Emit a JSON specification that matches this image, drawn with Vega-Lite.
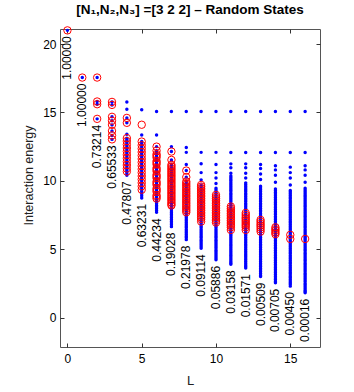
{
  "$schema": "https://vega.github.io/schema/vega-lite/v6.json",
  "width": 260,
  "height": 318,
  "autosize": "none",
  "padding": {"left": 60, "top": 29, "right": 34, "bottom": 45},
  "background": "white",
  "title": {"text": "[N₁,N₂,N₃] =[3 2 2] – Random States", "font": "Liberation Sans", "fontSize": 13.5, "fontWeight": "bold", "color": "black", "offset": 8, "anchor": "middle"},
  "config": {
    "view": {"stroke": "#555", "strokeWidth": 1},
    "axis": {"domain": false, "grid": false, "tickColor": "#333", "tickSize": -4, "labelFont": "Liberation Sans", "labelFontSize": 12, "labelColor": "black", "titleFont": "Liberation Sans", "titleFontSize": 13, "titleFontWeight": "normal", "titleColor": "#222"}
  },
  "datasets": {
    "b": [
      {"L":0,"E":21.0},
      {"L":1,"E":17.55},
      {"L":2,"E":17.55},{"L":2,"E":15.8},{"L":2,"E":15.6},{"L":2,"E":14.53},
      {"L":3,"E":15.77},{"L":3,"E":15.55},{"L":3,"E":14.68},{"L":3,"E":14.39},{"L":3,"E":14.09},{"L":3,"E":13.65},{"L":3,"E":13.32},{"L":3,"E":13.03},
      {"L":4,"E":15.77},{"L":4,"E":15.24},{"L":4,"E":14.6},{"L":4,"E":14.24},{"L":4,"E":13.4},{"L":4,"E":13.12},{"L":4,"E":13.0},{"L":4,"E":12.9},{"L":4,"E":12.78},{"L":4,"E":12.65},{"L":4,"E":12.53},{"L":4,"E":12.4},{"L":4,"E":12.28},{"L":4,"E":12.15},{"L":4,"E":12.03},{"L":4,"E":11.9},{"L":4,"E":11.78},{"L":4,"E":11.65},{"L":4,"E":11.53},{"L":4,"E":11.4},{"L":4,"E":11.28},{"L":4,"E":11.15},{"L":4,"E":11.03},{"L":4,"E":10.9},{"L":4,"E":10.79},{"L":4,"E":10.68},{"L":4,"E":10.55},{"L":4,"E":10.4},
      {"L":5,"E":15.2},{"L":5,"E":13.35},{"L":5,"E":12.87},{"L":5,"E":12.74},{"L":5,"E":12.6},{"L":5,"E":12.48},{"L":5,"E":12.35},{"L":5,"E":12.23},{"L":5,"E":12.1},{"L":5,"E":11.98},{"L":5,"E":11.85},{"L":5,"E":11.73},{"L":5,"E":11.6},{"L":5,"E":11.48},{"L":5,"E":11.35},{"L":5,"E":11.23},{"L":5,"E":11.1},{"L":5,"E":10.98},{"L":5,"E":10.85},{"L":5,"E":10.73},{"L":5,"E":10.6},{"L":5,"E":10.48},{"L":5,"E":10.35},{"L":5,"E":10.23},{"L":5,"E":10.1},{"L":5,"E":9.98},{"L":5,"E":9.85},{"L":5,"E":9.73},{"L":5,"E":9.6},{"L":5,"E":9.48},{"L":5,"E":9.35},{"L":5,"E":9.2},{"L":5,"E":9.05},{"L":5,"E":8.9},{"L":5,"E":8.75},
      {"L":6,"E":15.07},{"L":6,"E":13.35},{"L":6,"E":12.5},{"L":6,"E":12.2},{"L":6,"E":12.08},{"L":6,"E":11.95},{"L":6,"E":11.83},{"L":6,"E":11.7},{"L":6,"E":11.58},{"L":6,"E":11.45},{"L":6,"E":11.33},{"L":6,"E":11.2},{"L":6,"E":11.08},{"L":6,"E":10.95},{"L":6,"E":10.83},{"L":6,"E":10.7},{"L":6,"E":10.58},{"L":6,"E":10.45},{"L":6,"E":10.33},{"L":6,"E":10.2},{"L":6,"E":10.08},{"L":6,"E":9.95},{"L":6,"E":9.83},{"L":6,"E":9.7},{"L":6,"E":9.58},{"L":6,"E":9.45},{"L":6,"E":9.33},{"L":6,"E":9.2},{"L":6,"E":9.08},{"L":6,"E":8.95},{"L":6,"E":8.83},{"L":6,"E":8.7},{"L":6,"E":8.58},{"L":6,"E":8.45},{"L":6,"E":8.33},{"L":6,"E":8.2},{"L":6,"E":8.08},{"L":6,"E":7.95},{"L":6,"E":7.83},{"L":6,"E":7.7},
      {"L":7,"E":15.07},{"L":7,"E":12.5},{"L":7,"E":12.14},{"L":7,"E":11.53},{"L":7,"E":11.17},{"L":7,"E":11.05},{"L":7,"E":10.92},{"L":7,"E":10.8},{"L":7,"E":10.67},{"L":7,"E":10.55},{"L":7,"E":10.42},{"L":7,"E":10.3},{"L":7,"E":10.17},{"L":7,"E":10.05},{"L":7,"E":9.92},{"L":7,"E":9.8},{"L":7,"E":9.67},{"L":7,"E":9.55},{"L":7,"E":9.42},{"L":7,"E":9.3},{"L":7,"E":9.17},{"L":7,"E":9.05},{"L":7,"E":8.92},{"L":7,"E":8.8},{"L":7,"E":8.67},{"L":7,"E":8.55},{"L":7,"E":8.42},{"L":7,"E":8.3},{"L":7,"E":8.17},{"L":7,"E":8.05},{"L":7,"E":7.92},{"L":7,"E":7.8},{"L":7,"E":7.67},{"L":7,"E":7.55},{"L":7,"E":7.42},{"L":7,"E":7.3},{"L":7,"E":7.17},{"L":7,"E":7.05},{"L":7,"E":6.92},{"L":7,"E":6.78},{"L":7,"E":6.65},
      {"L":8,"E":15.07},{"L":8,"E":12.43},{"L":8,"E":12.08},{"L":8,"E":11.2},{"L":8,"E":10.75},{"L":8,"E":10.27},{"L":8,"E":9.95},{"L":8,"E":9.83},{"L":8,"E":9.7},{"L":8,"E":9.58},{"L":8,"E":9.45},{"L":8,"E":9.33},{"L":8,"E":9.2},{"L":8,"E":9.08},{"L":8,"E":8.95},{"L":8,"E":8.83},{"L":8,"E":8.7},{"L":8,"E":8.58},{"L":8,"E":8.45},{"L":8,"E":8.33},{"L":8,"E":8.2},{"L":8,"E":8.08},{"L":8,"E":7.95},{"L":8,"E":7.83},{"L":8,"E":7.7},{"L":8,"E":7.58},{"L":8,"E":7.45},{"L":8,"E":7.33},{"L":8,"E":7.2},{"L":8,"E":7.08},{"L":8,"E":6.95},{"L":8,"E":6.83},{"L":8,"E":6.7},{"L":8,"E":6.58},{"L":8,"E":6.45},{"L":8,"E":6.33},{"L":8,"E":6.2},{"L":8,"E":6.08},{"L":8,"E":5.95},{"L":8,"E":5.83},{"L":8,"E":5.7},
      {"L":9,"E":15.07},{"L":9,"E":12.08},{"L":9,"E":11.25},{"L":9,"E":10.6},{"L":9,"E":10.07},{"L":9,"E":9.7},{"L":9,"E":9.58},{"L":9,"E":9.45},{"L":9,"E":9.33},{"L":9,"E":9.2},{"L":9,"E":9.08},{"L":9,"E":8.95},{"L":9,"E":8.83},{"L":9,"E":8.7},{"L":9,"E":8.58},{"L":9,"E":8.45},{"L":9,"E":8.33},{"L":9,"E":8.2},{"L":9,"E":8.08},{"L":9,"E":7.95},{"L":9,"E":7.83},{"L":9,"E":7.7},{"L":9,"E":7.58},{"L":9,"E":7.45},{"L":9,"E":7.33},{"L":9,"E":7.2},{"L":9,"E":7.08},{"L":9,"E":6.95},{"L":9,"E":6.83},{"L":9,"E":6.7},{"L":9,"E":6.58},{"L":9,"E":6.45},{"L":9,"E":6.33},{"L":9,"E":6.2},{"L":9,"E":6.08},{"L":9,"E":5.95},{"L":9,"E":5.83},{"L":9,"E":5.7},{"L":9,"E":5.58},{"L":9,"E":5.45},{"L":9,"E":5.33},{"L":9,"E":5.2},{"L":9,"E":5.07},
      {"L":10,"E":15.07},{"L":10,"E":12.08},{"L":10,"E":11.2},{"L":10,"E":10.6},{"L":10,"E":10.2},{"L":10,"E":9.8},{"L":10,"E":9.45},{"L":10,"E":9.33},{"L":10,"E":9.2},{"L":10,"E":9.08},{"L":10,"E":8.95},{"L":10,"E":8.83},{"L":10,"E":8.7},{"L":10,"E":8.58},{"L":10,"E":8.45},{"L":10,"E":8.33},{"L":10,"E":8.2},{"L":10,"E":8.08},{"L":10,"E":7.95},{"L":10,"E":7.83},{"L":10,"E":7.7},{"L":10,"E":7.58},{"L":10,"E":7.45},{"L":10,"E":7.33},{"L":10,"E":7.2},{"L":10,"E":7.08},{"L":10,"E":6.95},{"L":10,"E":6.83},{"L":10,"E":6.7},{"L":10,"E":6.58},{"L":10,"E":6.45},{"L":10,"E":6.33},{"L":10,"E":6.2},{"L":10,"E":6.08},{"L":10,"E":5.95},{"L":10,"E":5.83},{"L":10,"E":5.7},{"L":10,"E":5.58},{"L":10,"E":5.45},{"L":10,"E":5.33},{"L":10,"E":5.2},{"L":10,"E":5.08},{"L":10,"E":4.95},{"L":10,"E":4.83},{"L":10,"E":4.7},{"L":10,"E":4.58},{"L":10,"E":4.45},{"L":10,"E":4.33},{"L":10,"E":4.22},
      {"L":11,"E":15.07},{"L":11,"E":12.07},{"L":11,"E":11.24},{"L":11,"E":10.95},{"L":11,"E":10.56},{"L":11,"E":10.35},{"L":11,"E":10.23},{"L":11,"E":10.1},{"L":11,"E":9.98},{"L":11,"E":9.85},{"L":11,"E":9.73},{"L":11,"E":9.6},{"L":11,"E":9.48},{"L":11,"E":9.35},{"L":11,"E":9.23},{"L":11,"E":9.1},{"L":11,"E":8.98},{"L":11,"E":8.85},{"L":11,"E":8.73},{"L":11,"E":8.6},{"L":11,"E":8.48},{"L":11,"E":8.35},{"L":11,"E":8.23},{"L":11,"E":8.1},{"L":11,"E":7.98},{"L":11,"E":7.85},{"L":11,"E":7.73},{"L":11,"E":7.6},{"L":11,"E":7.48},{"L":11,"E":7.35},{"L":11,"E":7.23},{"L":11,"E":7.1},{"L":11,"E":6.98},{"L":11,"E":6.85},{"L":11,"E":6.73},{"L":11,"E":6.6},{"L":11,"E":6.48},{"L":11,"E":6.35},{"L":11,"E":6.23},{"L":11,"E":6.1},{"L":11,"E":5.98},{"L":11,"E":5.85},{"L":11,"E":5.73},{"L":11,"E":5.6},{"L":11,"E":5.48},{"L":11,"E":5.35},{"L":11,"E":5.23},{"L":11,"E":5.1},{"L":11,"E":4.98},{"L":11,"E":4.85},{"L":11,"E":4.73},{"L":11,"E":4.6},{"L":11,"E":4.48},{"L":11,"E":4.35},{"L":11,"E":4.23},{"L":11,"E":4.1},{"L":11,"E":4.0},{"L":11,"E":3.9},
      {"L":12,"E":15.07},{"L":12,"E":12.07},{"L":12,"E":11.24},{"L":12,"E":10.95},{"L":12,"E":10.56},{"L":12,"E":10.2},{"L":12,"E":9.85},{"L":12,"E":9.73},{"L":12,"E":9.6},{"L":12,"E":9.48},{"L":12,"E":9.35},{"L":12,"E":9.23},{"L":12,"E":9.1},{"L":12,"E":8.98},{"L":12,"E":8.85},{"L":12,"E":8.73},{"L":12,"E":8.6},{"L":12,"E":8.48},{"L":12,"E":8.35},{"L":12,"E":8.23},{"L":12,"E":8.1},{"L":12,"E":7.98},{"L":12,"E":7.85},{"L":12,"E":7.73},{"L":12,"E":7.6},{"L":12,"E":7.48},{"L":12,"E":7.35},{"L":12,"E":7.23},{"L":12,"E":7.1},{"L":12,"E":6.98},{"L":12,"E":6.85},{"L":12,"E":6.73},{"L":12,"E":6.6},{"L":12,"E":6.48},{"L":12,"E":6.35},{"L":12,"E":6.23},{"L":12,"E":6.1},{"L":12,"E":5.98},{"L":12,"E":5.85},{"L":12,"E":5.73},{"L":12,"E":5.6},{"L":12,"E":5.48},{"L":12,"E":5.35},{"L":12,"E":5.23},{"L":12,"E":5.1},{"L":12,"E":4.98},{"L":12,"E":4.85},{"L":12,"E":4.73},{"L":12,"E":4.6},{"L":12,"E":4.48},{"L":12,"E":4.35},{"L":12,"E":4.23},{"L":12,"E":4.1},{"L":12,"E":3.98},{"L":12,"E":3.85},{"L":12,"E":3.74},{"L":12,"E":3.63},
      {"L":13,"E":15.07},{"L":13,"E":12.07},{"L":13,"E":11.2},{"L":13,"E":10.9},{"L":13,"E":10.5},{"L":13,"E":10.1},{"L":13,"E":9.6},{"L":13,"E":9.48},{"L":13,"E":9.35},{"L":13,"E":9.23},{"L":13,"E":9.1},{"L":13,"E":8.98},{"L":13,"E":8.85},{"L":13,"E":8.73},{"L":13,"E":8.6},{"L":13,"E":8.48},{"L":13,"E":8.35},{"L":13,"E":8.23},{"L":13,"E":8.1},{"L":13,"E":7.98},{"L":13,"E":7.85},{"L":13,"E":7.73},{"L":13,"E":7.6},{"L":13,"E":7.48},{"L":13,"E":7.35},{"L":13,"E":7.23},{"L":13,"E":7.1},{"L":13,"E":6.98},{"L":13,"E":6.85},{"L":13,"E":6.73},{"L":13,"E":6.6},{"L":13,"E":6.48},{"L":13,"E":6.35},{"L":13,"E":6.23},{"L":13,"E":6.1},{"L":13,"E":5.98},{"L":13,"E":5.85},{"L":13,"E":5.73},{"L":13,"E":5.6},{"L":13,"E":5.48},{"L":13,"E":5.35},{"L":13,"E":5.23},{"L":13,"E":5.1},{"L":13,"E":4.98},{"L":13,"E":4.85},{"L":13,"E":4.73},{"L":13,"E":4.6},{"L":13,"E":4.48},{"L":13,"E":4.35},{"L":13,"E":4.23},{"L":13,"E":4.1},{"L":13,"E":3.98},{"L":13,"E":3.85},{"L":13,"E":3.73},{"L":13,"E":3.6},{"L":13,"E":3.48},{"L":13,"E":3.35},{"L":13,"E":3.23},{"L":13,"E":3.1},{"L":13,"E":3.0},
      {"L":14,"E":15.07},{"L":14,"E":12.07},{"L":14,"E":11.1},{"L":14,"E":10.8},{"L":14,"E":10.4},{"L":14,"E":9.9},{"L":14,"E":9.4},{"L":14,"E":9.28},{"L":14,"E":9.15},{"L":14,"E":9.03},{"L":14,"E":8.9},{"L":14,"E":8.78},{"L":14,"E":8.65},{"L":14,"E":8.53},{"L":14,"E":8.4},{"L":14,"E":8.28},{"L":14,"E":8.15},{"L":14,"E":8.03},{"L":14,"E":7.9},{"L":14,"E":7.78},{"L":14,"E":7.65},{"L":14,"E":7.53},{"L":14,"E":7.4},{"L":14,"E":7.28},{"L":14,"E":7.15},{"L":14,"E":7.03},{"L":14,"E":6.9},{"L":14,"E":6.78},{"L":14,"E":6.65},{"L":14,"E":6.53},{"L":14,"E":6.4},{"L":14,"E":6.28},{"L":14,"E":6.15},{"L":14,"E":6.03},{"L":14,"E":5.9},{"L":14,"E":5.78},{"L":14,"E":5.65},{"L":14,"E":5.53},{"L":14,"E":5.4},{"L":14,"E":5.28},{"L":14,"E":5.15},{"L":14,"E":5.03},{"L":14,"E":4.9},{"L":14,"E":4.78},{"L":14,"E":4.65},{"L":14,"E":4.53},{"L":14,"E":4.4},{"L":14,"E":4.28},{"L":14,"E":4.15},{"L":14,"E":4.03},{"L":14,"E":3.9},{"L":14,"E":3.78},{"L":14,"E":3.65},{"L":14,"E":3.53},{"L":14,"E":3.4},{"L":14,"E":3.28},{"L":14,"E":3.15},{"L":14,"E":3.03},{"L":14,"E":2.9},{"L":14,"E":2.78},{"L":14,"E":2.65},{"L":14,"E":2.55},
      {"L":15,"E":15.07},{"L":15,"E":12.07},{"L":15,"E":11.0},{"L":15,"E":10.6},{"L":15,"E":10.2},{"L":15,"E":9.7},{"L":15,"E":9.3},{"L":15,"E":9.18},{"L":15,"E":9.05},{"L":15,"E":8.93},{"L":15,"E":8.8},{"L":15,"E":8.68},{"L":15,"E":8.55},{"L":15,"E":8.43},{"L":15,"E":8.3},{"L":15,"E":8.18},{"L":15,"E":8.05},{"L":15,"E":7.93},{"L":15,"E":7.8},{"L":15,"E":7.68},{"L":15,"E":7.55},{"L":15,"E":7.43},{"L":15,"E":7.3},{"L":15,"E":7.18},{"L":15,"E":7.05},{"L":15,"E":6.93},{"L":15,"E":6.8},{"L":15,"E":6.68},{"L":15,"E":6.55},{"L":15,"E":6.43},{"L":15,"E":6.3},{"L":15,"E":6.18},{"L":15,"E":6.05},{"L":15,"E":5.93},{"L":15,"E":5.8},{"L":15,"E":5.68},{"L":15,"E":5.55},{"L":15,"E":5.43},{"L":15,"E":5.3},{"L":15,"E":5.18},{"L":15,"E":5.05},{"L":15,"E":4.93},{"L":15,"E":4.8},{"L":15,"E":4.68},{"L":15,"E":4.55},{"L":15,"E":4.43},{"L":15,"E":4.3},{"L":15,"E":4.18},{"L":15,"E":4.05},{"L":15,"E":3.93},{"L":15,"E":3.8},{"L":15,"E":3.68},{"L":15,"E":3.55},{"L":15,"E":3.43},{"L":15,"E":3.3},{"L":15,"E":3.18},{"L":15,"E":3.05},{"L":15,"E":2.93},{"L":15,"E":2.8},{"L":15,"E":2.68},{"L":15,"E":2.55},{"L":15,"E":2.43},{"L":15,"E":2.3},
      {"L":16,"E":15.07},{"L":16,"E":12.07},{"L":16,"E":11.1},{"L":16,"E":10.8},{"L":16,"E":10.4},{"L":16,"E":9.9},{"L":16,"E":9.45},{"L":16,"E":9.33},{"L":16,"E":9.2},{"L":16,"E":9.08},{"L":16,"E":8.95},{"L":16,"E":8.83},{"L":16,"E":8.7},{"L":16,"E":8.58},{"L":16,"E":8.45},{"L":16,"E":8.33},{"L":16,"E":8.2},{"L":16,"E":8.08},{"L":16,"E":7.95},{"L":16,"E":7.83},{"L":16,"E":7.7},{"L":16,"E":7.58},{"L":16,"E":7.45},{"L":16,"E":7.33},{"L":16,"E":7.2},{"L":16,"E":7.08},{"L":16,"E":6.95},{"L":16,"E":6.83},{"L":16,"E":6.7},{"L":16,"E":6.58},{"L":16,"E":6.45},{"L":16,"E":6.33},{"L":16,"E":6.2},{"L":16,"E":6.08},{"L":16,"E":5.95},{"L":16,"E":5.85},{"L":16,"E":5.75},{"L":16,"E":5.63},{"L":16,"E":5.5},{"L":16,"E":5.38},{"L":16,"E":5.25},{"L":16,"E":5.13},{"L":16,"E":5.0},{"L":16,"E":4.88},{"L":16,"E":4.75},{"L":16,"E":4.63},{"L":16,"E":4.5},{"L":16,"E":4.38},{"L":16,"E":4.25},{"L":16,"E":4.13},{"L":16,"E":4.0},{"L":16,"E":3.88},{"L":16,"E":3.75},{"L":16,"E":3.63},{"L":16,"E":3.5},{"L":16,"E":3.38},{"L":16,"E":3.25},{"L":16,"E":3.13},{"L":16,"E":3.0},{"L":16,"E":2.88},{"L":16,"E":2.75},{"L":16,"E":2.63},{"L":16,"E":2.5},{"L":16,"E":2.38},{"L":16,"E":2.25},{"L":16,"E":2.13},{"L":16,"E":2.0},{"L":16,"E":1.9},{"L":16,"E":1.82}
    ],
    "r": [
      {"L":0,"E":21.0},
      {"L":1,"E":17.55},
      {"L":2,"E":17.55},{"L":2,"E":15.8},{"L":2,"E":15.6},{"L":2,"E":14.53},
      {"L":3,"E":15.77},{"L":3,"E":15.55},{"L":3,"E":14.68},{"L":3,"E":14.39},{"L":3,"E":14.09},{"L":3,"E":13.65},{"L":3,"E":13.32},{"L":3,"E":13.03},
      {"L":4,"E":14.6},{"L":4,"E":14.24},{"L":4,"E":13.12},{"L":4,"E":12.9},{"L":4,"E":12.65},{"L":4,"E":12.4},{"L":4,"E":12.15},{"L":4,"E":11.9},{"L":4,"E":11.65},{"L":4,"E":11.4},{"L":4,"E":11.15},{"L":4,"E":10.9},{"L":4,"E":10.68},
      {"L":5,"E":14.1},{"L":5,"E":12.87},{"L":5,"E":12.6},{"L":5,"E":12.35},{"L":5,"E":12.1},{"L":5,"E":11.85},{"L":5,"E":11.6},{"L":5,"E":11.35},{"L":5,"E":11.1},{"L":5,"E":10.85},{"L":5,"E":10.6},{"L":5,"E":10.35},{"L":5,"E":10.1},{"L":5,"E":9.85},{"L":5,"E":9.6},{"L":5,"E":9.35},
      {"L":6,"E":12.5},{"L":6,"E":12.2},{"L":6,"E":11.95},{"L":6,"E":11.83},{"L":6,"E":11.7},{"L":6,"E":11.45},{"L":6,"E":11.33},{"L":6,"E":11.2},{"L":6,"E":10.95},{"L":6,"E":10.83},{"L":6,"E":10.7},{"L":6,"E":10.45},{"L":6,"E":10.33},{"L":6,"E":10.2},{"L":6,"E":9.95},{"L":6,"E":9.83},{"L":6,"E":9.7},{"L":6,"E":9.45},{"L":6,"E":9.33},{"L":6,"E":9.2},{"L":6,"E":8.95},{"L":6,"E":8.83},{"L":6,"E":8.7},
      {"L":7,"E":12.14},{"L":7,"E":11.53},{"L":7,"E":11.17},{"L":7,"E":11.05},{"L":7,"E":10.92},{"L":7,"E":10.8},{"L":7,"E":10.67},{"L":7,"E":10.55},{"L":7,"E":10.42},{"L":7,"E":10.3},{"L":7,"E":10.17},{"L":7,"E":10.05},{"L":7,"E":9.92},{"L":7,"E":9.8},{"L":7,"E":9.67},{"L":7,"E":9.55},{"L":7,"E":9.42},{"L":7,"E":9.3},{"L":7,"E":9.17},{"L":7,"E":9.05},{"L":7,"E":8.92},{"L":7,"E":8.8},{"L":7,"E":8.67},{"L":7,"E":8.55},{"L":7,"E":8.42},{"L":7,"E":8.3},{"L":7,"E":8.2},
      {"L":8,"E":10.75},{"L":8,"E":10.27},{"L":8,"E":9.95},{"L":8,"E":9.83},{"L":8,"E":9.7},{"L":8,"E":9.58},{"L":8,"E":9.45},{"L":8,"E":9.33},{"L":8,"E":9.2},{"L":8,"E":9.08},{"L":8,"E":8.95},{"L":8,"E":8.83},{"L":8,"E":8.7},{"L":8,"E":8.58},{"L":8,"E":8.45},{"L":8,"E":8.33},{"L":8,"E":8.2},{"L":8,"E":8.08},{"L":8,"E":7.95},{"L":8,"E":7.83},{"L":8,"E":7.7},
      {"L":9,"E":9.7},{"L":9,"E":9.58},{"L":9,"E":9.45},{"L":9,"E":9.33},{"L":9,"E":9.2},{"L":9,"E":9.08},{"L":9,"E":8.95},{"L":9,"E":8.83},{"L":9,"E":8.7},{"L":9,"E":8.58},{"L":9,"E":8.45},{"L":9,"E":8.33},{"L":9,"E":8.2},{"L":9,"E":8.08},{"L":9,"E":7.95},{"L":9,"E":7.83},{"L":9,"E":7.7},{"L":9,"E":7.58},{"L":9,"E":7.45},{"L":9,"E":7.33},{"L":9,"E":7.2},{"L":9,"E":7.02},
      {"L":10,"E":8.97},{"L":10,"E":8.83},{"L":10,"E":8.7},{"L":10,"E":8.58},{"L":10,"E":8.45},{"L":10,"E":8.33},{"L":10,"E":8.2},{"L":10,"E":8.08},{"L":10,"E":7.95},{"L":10,"E":7.83},{"L":10,"E":7.7},{"L":10,"E":7.58},{"L":10,"E":7.45},{"L":10,"E":7.33},{"L":10,"E":7.2},{"L":10,"E":7.08},{"L":10,"E":6.95},
      {"L":11,"E":8.12},{"L":11,"E":7.98},{"L":11,"E":7.85},{"L":11,"E":7.73},{"L":11,"E":7.6},{"L":11,"E":7.48},{"L":11,"E":7.35},{"L":11,"E":7.23},{"L":11,"E":7.1},{"L":11,"E":6.98},{"L":11,"E":6.85},{"L":11,"E":6.73},{"L":11,"E":6.6},{"L":11,"E":6.41},
      {"L":12,"E":7.65},{"L":12,"E":7.5},{"L":12,"E":7.35},{"L":12,"E":7.23},{"L":12,"E":7.1},{"L":12,"E":6.98},{"L":12,"E":6.85},{"L":12,"E":6.73},{"L":12,"E":6.6},{"L":12,"E":6.41},
      {"L":13,"E":7.14},{"L":13,"E":7.0},{"L":13,"E":6.85},{"L":13,"E":6.73},{"L":13,"E":6.6},{"L":13,"E":6.45},{"L":13,"E":6.29},
      {"L":14,"E":6.6},{"L":14,"E":6.47},{"L":14,"E":6.35},{"L":14,"E":6.22},{"L":14,"E":6.1},
      {"L":15,"E":6.05},{"L":15,"E":5.75},
      {"L":16,"E":5.75}
    ],
    "lab": [
      {"L":0,"E":21.0,"p":"1.00000"},
      {"L":1,"E":17.55,"p":"1.00000"},
      {"L":2,"E":14.53,"p":"0.73214"},
      {"L":3,"E":13.03,"p":"0.65533"},
      {"L":4,"E":10.4,"p":"0.47807"},
      {"L":5,"E":8.75,"p":"0.63231"},
      {"L":6,"E":7.7,"p":"0.44234"},
      {"L":7,"E":6.65,"p":"0.19028"},
      {"L":8,"E":5.7,"p":"0.21978"},
      {"L":9,"E":5.07,"p":"0.09114"},
      {"L":10,"E":4.22,"p":"0.05886"},
      {"L":11,"E":3.9,"p":"0.03158"},
      {"L":12,"E":3.63,"p":"0.01571"},
      {"L":13,"E":3.0,"p":"0.00509"},
      {"L":14,"E":2.55,"p":"0.00705"},
      {"L":15,"E":2.3,"p":"0.00450"},
      {"L":16,"E":1.82,"p":"0.00016"}
    ]
  },
  "layer": [
    {
      "data": {"name": "b"},
      "mark": {"type": "point", "filled": true, "color": "#0000ff", "size": 12, "opacity": 1},
      "encoding": {
        "x": {"field": "L", "type": "quantitative", "scale": {"domain": [-0.5, 17], "nice": false, "zero": false},
              "axis": {"orient": "bottom", "values": [0, 5, 10, 15], "title": "L", "labelPadding": 10, "titleFontSize": 13, "titlePadding": 10}},
        "y": {"field": "E", "type": "quantitative", "scale": {"domain": [-2.15, 21.1], "nice": false, "zero": false},
              "axis": {"orient": "left", "values": [0, 5, 10, 15, 20], "title": "Interaction energy", "labelPadding": 8, "titleFontSize": 12.5, "titleX": -32, "titleY": 146, "titleBaseline": "middle", "titleAlign": "center", "titleAngle": 270}}
      }
    },
    {
      "data": {"name": "r"},
      "mark": {"type": "point", "filled": false, "stroke": "#ff0000", "strokeWidth": 1, "size": 55, "opacity": 1},
      "encoding": {
        "x": {"field": "L", "type": "quantitative",
              "axis": {"orient": "top", "values": [0, 5, 10, 15], "labels": false, "title": null}},
        "y": {"field": "E", "type": "quantitative",
              "axis": {"orient": "right", "values": [0, 5, 10, 15, 20], "labels": false, "title": null}}
      }
    },
    {
      "data": {"name": "lab"},
      "mark": {"type": "text", "angle": 270, "align": "right", "baseline": "middle", "font": "Liberation Sans", "fontSize": 12, "color": "black", "yOffset": 6},
      "encoding": {
        "x": {"field": "L", "type": "quantitative", "axis": null},
        "y": {"field": "E", "type": "quantitative", "axis": null},
        "text": {"field": "p", "type": "nominal"}
      }
    }
  ],
  "resolve": {"axis": {"x": "independent", "y": "independent"}}
}
